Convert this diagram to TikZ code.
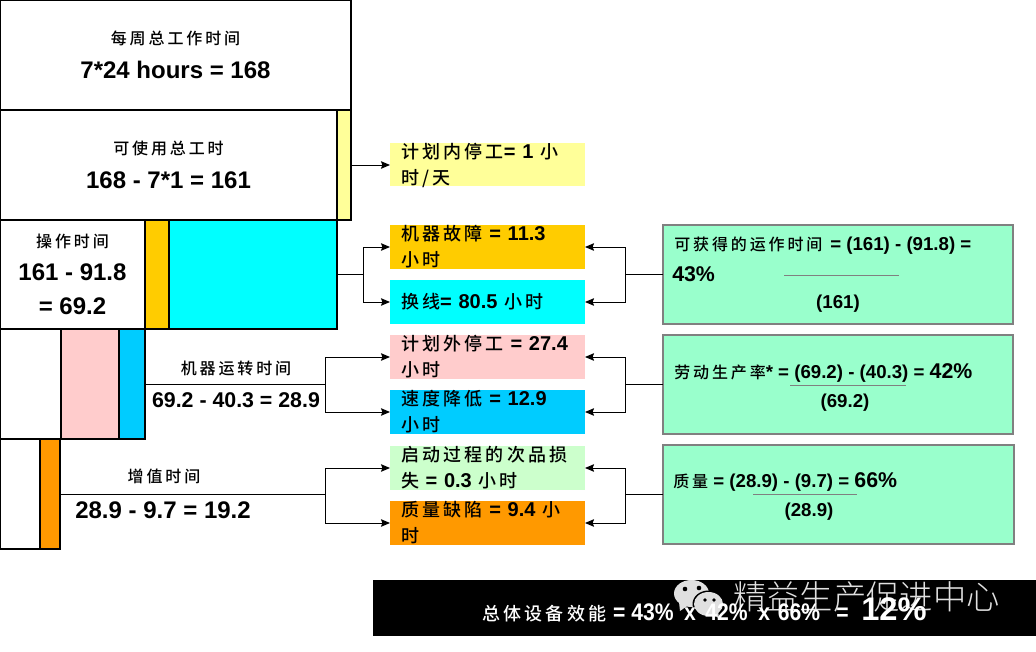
\documentclass[tikz,border=0pt]{standalone}
\usepackage{fontspec}
\setmainfont{Liberation Sans}
\newfontfamily\cjk[LetterSpace=18]{Noto Sans CJK SC Medium}
\newfontfamily\markfont{Noto Sans CJK SC Light}
\newfontfamily\narrowfont[FakeStretch=0.88]{Liberation Sans}
\usetikzlibrary{positioning,arrows.meta,calc}
\newcommand{\pxu}{0.75pt}
\newcommand{\zh}[1]{{\mdseries\fontsize{12}{\baselineskip}\cjk #1}}
\newcommand{\zhb}[1]{{\mdseries\fontsize{13.5}{\baselineskip}\cjk #1}}
\definecolor{planyellow}{HTML}{FFFF99}
\definecolor{faultgold}{HTML}{FFCC00}
\definecolor{setupcyan}{HTML}{00FFFF}
\definecolor{stoppink}{HTML}{FFCCCC}
\definecolor{speedblue}{HTML}{00CCFF}
\definecolor{startgreen}{HTML}{CCFFCC}
\definecolor{defectorange}{HTML}{FF9900}
\definecolor{ratiogreen}{HTML}{99FFCC}
\tikzset{
  timebox/.style={draw,line width=0.8pt,outer sep=0pt,inner sep=0pt,anchor=north west,align=center,
    font=\fontsize{18}{25.5}\bfseries},
  timelabel/.style={inner sep=0pt,align=center,font=\fontsize{18}{22}\bfseries},
  outcome/.style={outer sep=0pt,minimum width=195*\pxu,minimum height=44*\pxu},
  outtext/.style={inner sep=0pt,text width=173*\pxu,align=left,font=\fontsize{15}{19.5}\bfseries},
  ratio/.style={draw=black!50,line width=0.8pt,fill=ratiogreen,outer sep=0pt,anchor=north west,
    minimum width=350*\pxu,minimum height=99*\pxu},
  ratiotext/.style={inner sep=0pt,anchor=west,font=\fontsize{14}{17}\bfseries},
  fracrule/.style={draw=black!50,line width=0.6pt},
  link/.style={line width=0.7pt},
  linkto/.style={link,-{Stealth[length=9*\pxu,width=7.5*\pxu,inset=1pt]}},
  markfill/.style={fill=black!12}
}
\begin{document}
\begin{tikzpicture}[x=0.75pt,y=-0.75pt,node distance=11*\pxu]
  \useasboundingbox (0,0) rectangle (1036,652);
  % time stack
  \node[timebox,minimum width=351*\pxu,minimum height=110*\pxu] (week) at (0,0)
    {\zh{每周总工作时间}\\7*24 hours = 168};
  \node[timebox,minimum width=337*\pxu,minimum height=110*\pxu] (avail) at (week.south west)
    {\zh{可使用总工时}\\168 - 7*1 = 161};
  \node[timebox,fill=planyellow,minimum width=14*\pxu,minimum height=110*\pxu] (planbar) at (avail.north east) {};
  \node[timebox,minimum width=145*\pxu,minimum height=109*\pxu] (oper) at (avail.south west)
    {\zh{操作时间}\\[-1pt]\fontsize{18}{22}\selectfont 161 - 91.8\\= 69.2};
  \node[timebox,fill=faultgold,minimum width=24*\pxu,minimum height=109*\pxu] (faultbar) at (oper.north east) {};
  \node[timebox,fill=setupcyan,minimum width=168*\pxu,minimum height=109*\pxu] (setupbar) at (faultbar.north east) {};
  \node[timebox,minimum width=61*\pxu,minimum height=110*\pxu] (run) at (oper.south west) {};
  \node[timebox,fill=stoppink,minimum width=58*\pxu,minimum height=110*\pxu] (stopbar) at (run.north east) {};
  \node[timebox,fill=speedblue,minimum width=26*\pxu,minimum height=110*\pxu] (speedbar) at (stopbar.north east) {};
  \node[timebox,minimum width=40*\pxu,minimum height=110*\pxu] (value) at (run.south west) {};
  \node[timebox,fill=defectorange,minimum width=20*\pxu,minimum height=110*\pxu] (defectbar) at (value.north east) {};
  \node[timelabel] (runzh) at (236,368) {\zh{机器运转时间}};
  \node[timelabel,font=\fontsize{16}{20}\bfseries] (runval) at (236,400) {69.2 - 40.3 = 28.9};
  \node[timelabel] (valuezh) at (164,476) {\zh{增值时间}};
  \node[timelabel] (valueval) at (163,510) {28.9 - 9.7 = 19.2};
  % losses
  \node[outcome,fill=planyellow,minimum height=43*\pxu] (plan) at (487.5,165) {};
  \node[outcome,fill=faultgold] (fault) at (487.5,247) {};
  \node[outcome,fill=setupcyan,below=of fault] (setup) {};
  \node[outcome,fill=stoppink,below=of setup] (stop) {};
  \node[outcome,fill=speedblue,below=of stop] (speed) {};
  \node[outcome,fill=startgreen,below=12*\pxu of speed] (start) {};
  \node[outcome,fill=defectorange,below=of start] (defect) {};
  \node[outtext] at (plan) {\zhb{计划内停工}= 1 \zhb{小}\\\zhb{时/天}};
  \node[outtext] at (fault) {\zhb{机器故障} = 11.3\\\zhb{小时}};
  \node[outtext] at (setup) {\zhb{换线}= 80.5 \zhb{小时}};
  \node[outtext] at (stop) {\zhb{计划外停工} = 27.4\\\zhb{小时}};
  \node[outtext] at (speed) {\zhb{速度降低} = 12.9\\\zhb{小时}};
  \node[outtext] at (start) {\zhb{启动过程的次品损}\\\zhb{失} = 0.3 \zhb{小时}};
  \node[outtext] at (defect) {\zhb{质量缺陷} = 9.4 \zhb{小}\\\zhb{时}};
  % ratios
  \node[ratio] (ratA) at (663,225) {};
  \node[ratio] (ratB) at (663,335) {};
  \node[ratio,minimum width=351*\pxu] (ratC) at (663,445) {};
  \node[ratiotext] (ratAtop) at (674,246) {\zh{可获得的运作时间}\hspace{2pt} = (161) - (91.8) =};
  \node[ratiotext,font=\fontsize{16}{18}\bfseries] (ratApct) at (672,274) {43\%};
  \node[ratiotext,anchor=center] (ratAbot) at (838,304) {(161)};
  \node[ratiotext] (ratBtop) at (674,373) {\zh{劳动生产率}* = (69.2) - (40.3) = {\fontsize{16}{18}\selectfont 42\%}};
  \node[ratiotext,anchor=center] (ratBbot) at (845,403) {(69.2)};
  \node[ratiotext] (ratCtop) at (673,482) {\zh{质量} = (28.9) - (9.7) = {\fontsize{16}{18}\selectfont 66\%}};
  \node[ratiotext,anchor=center] (ratCbot) at (809,512) {(28.9)};
  \draw[fracrule] (784,275) -- (899,275);
  \draw[fracrule] (790,385) -- (906,385);
  \draw[fracrule] (753,494) -- (857,494);
  % junctions
  \coordinate (jop) at (363,274.5);
  \coordinate (jrun) at (325,384);
  \coordinate (jval) at (325,494);
  \coordinate (jratA) at (625,274.5);
  \coordinate (jratB) at (625,384.5);
  \coordinate (jratC) at (625,494.5);
  \draw[linkto] (planbar.east) -- (plan.west);
  \draw[link] (setupbar.east) -- (jop);
  \draw[linkto] (jop) |- (fault.west);
  \draw[linkto] (jop) |- (setup.west);
  \draw[link] (speedbar.east) -- (jrun);
  \draw[linkto] (jrun) |- (stop.west);
  \draw[linkto] (jrun) |- (speed.west);
  \draw[link] (defectbar.east) -- (jval);
  \draw[linkto] (jval) |- (start.west);
  \draw[linkto] (jval) |- (defect.west);
  \draw[link] (ratA.west) -- (jratA);
  \draw[linkto] (jratA) |- (fault.east);
  \draw[linkto] (jratA) |- (setup.east);
  \draw[link] (ratB.west) -- (jratB);
  \draw[linkto] (jratB) |- (stop.east);
  \draw[linkto] (jratB) |- (speed.east);
  \draw[link] (ratC.west) -- (jratC);
  \draw[linkto] (jratC) |- (start.east);
  \draw[linkto] (jratC) |- (defect.east);
  % result bar, watermark under its text
  \node[fill=black,outer sep=0pt,anchor=north west,minimum width=663*\pxu,minimum height=56*\pxu] (total) at (373,580) {};
  \fill[markfill] (691.5,593.5) ellipse (17.5 and 13.5);
  \fill[markfill] (679,602) -- (680,611) -- (690,604) -- cycle;
  \fill[black] (708.5,604) ellipse (16 and 13.5);
  \fill[markfill] (708.5,604) ellipse (14.5 and 12);
  \fill[markfill] (712,612) -- (719,619) -- (718,610) -- cycle;
  \fill[black] (685,589) circle (2.3) (699,588) circle (2.3) (705,600) circle (1.8) (714,600) circle (1.8);
  \node[inner sep=0pt,anchor=west,text=black!12,font=\fontsize{25}{27}\markfont] (mark) at (733,597) {精益生产促进中心};
  \node[inner sep=0pt,anchor=base west,text=white,font=\fontsize{15}{18}\bfseries] (totaltext) at (482,620.5)
    {\zhb{总体设备效能}\hspace{5pt}{\narrowfont\fontsize{18}{22}\selectfont = 43\%\hspace{8pt}x\hspace{7pt}42\%\hspace{8pt}x\hspace{6pt}66\%\hspace{12pt}=}};
  \node[inner sep=0pt,anchor=base west,text=white,font=\fontsize{24.5}{28}\bfseries] (totalpct) at (861,620.5) {12\%};
\end{tikzpicture}
\end{document}
